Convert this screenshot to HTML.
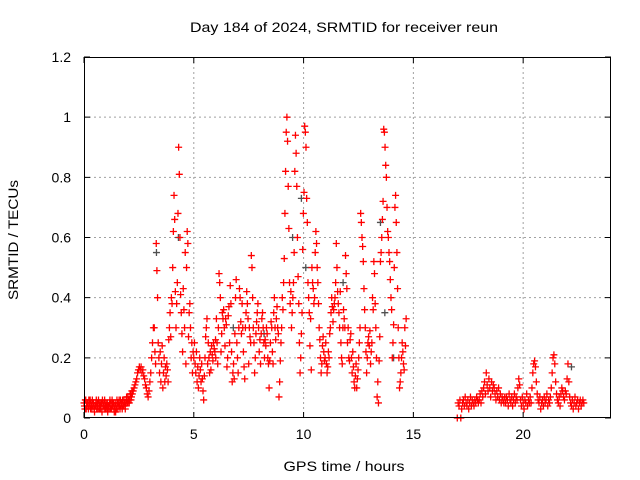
<!DOCTYPE html>
<html><head><meta charset="utf-8"><style>
html,body{margin:0;padding:0;background:#fff;}
svg{display:block;font-family:"Liberation Sans",sans-serif;}
</style></head><body>
<svg id="chart" width="640" height="480" viewBox="0 0 640 480">
<rect x="0" y="0" width="640" height="480" fill="#fff"/>
<text x="344" y="32" font-size="14" text-anchor="middle" textLength="308" lengthAdjust="spacingAndGlyphs" fill="#000">Day 184 of 2024, SRMTID for receiver reun</text>
<text x="344" y="471" font-size="14" text-anchor="middle" textLength="121" lengthAdjust="spacingAndGlyphs" fill="#000">GPS time / hours</text>
<text x="18" y="240" font-size="14" text-anchor="middle" textLength="120" lengthAdjust="spacingAndGlyphs" fill="#000" transform="rotate(-90 18 240)">SRMTID / TECUs</text>
<g id="grid"></g><g id="marks"></g><g id="axes"></g>
</svg>
<script>
const xTicks=[0,5,10,15,20];
const yTicks=[0,0.2,0.4,0.6,0.8,1,1.2];
const yTickLabels=["0","0.2","0.4","0.6","0.8","1","1.2"];
const segStarts=[0,0.02,2.2,3.2,5.0,6.0,9.0,10.5,12.0,17.0,18.0,19.2,20.4,21.6];
const segSteps=[0.04,0.04,0.04,0.03,0.03,0.03,0.03,0.03,0.03,0.04,0.04,0.04,0.04,0.04];
const segValues=[
[0.05,0.03,0.06,0.04,0.05,0.03,0.04,0.06,0.05,0.03,0.04,0.05,0.02,0.04,0.06,0.04,0.03,0.05,0.04,0.03,0.05,0.06,0.04,0.03,0.04,0.05,0.03,0.02,0.04,0.05,0.03,0.04,0.06,0.05,0.03,0.04,0.02,0.03,0.05,0.04,0.06,0.03,0.04,0.05,0.06,0.04,0.05,0.03,0.06,0.05,0.07,0.05,0.06,0.08,0.07],
[0.04,0.06,0.03,0.05,0.04,0.06,0.05,0.03,0.04,0.06,0.05,0.03,0.04,0.05,0.03,0.05,0.06,0.03,0.05,0.04,0.02,0.04,0.05,0.06,0.03,0.04,0.05,0.04,0.03,0.06,0.05,0.03,0.04,0.05,0.02,0.05,0.04,0.06,0.03,0.05,0.04,0.06,0.05,0.03,0.04,0.06,0.04,0.05,0.07,0.05,0.06,0.05,0.08,0.06,0.09],
[0.08,0.09,0.1,0.11,0.12,0.13,0.15,0.16,0.17,0.16,0.17,0.15,0.16,0.14,0.13,0.11,0.1,0.08,0.07,0.09,0.12,0.15,0.2,0.25,0.3],
[0.3,0.22,0.18,0.58,0.49,0.4,0.25,0.2,0.15,0.22,0.12,0.18,0.24,0.1,0.15,0.2,0.12,0.17,0.14,0.18,0.16,0.12,0.26,0.3,0.35,0.27,0.4,0.38,0.5,0.62,0.74,0.66,0.42,0.3,0.38,0.45,0.68,0.9,0.81,0.6,0.41,0.35,0.28,0.22,0.43,0.36,0.3,0.55,0.18,0.5,0.62,0.58,0.27,0.35,0.38,0.3,0.2,0.25,0.15,0.22],
[0.2,0.25,0.18,0.15,0.22,0.12,0.17,0.1,0.14,0.2,0.16,0.12,0.18,0.13,0.09,0.06,0.14,0.2,0.27,0.3,0.33,0.18,0.25,0.2,0.15,0.22,0.16,0.24,0.21,0.19,0.25,0.23,0.22,0.26],
[0.2,0.33,0.25,0.18,0.3,0.48,0.45,0.4,0.22,0.28,0.35,0.33,0.36,0.3,0.24,0.33,0.31,0.17,0.2,0.34,0.37,0.25,0.44,0.38,0.22,0.12,0.15,0.18,0.13,0.28,0.4,0.46,0.25,0.2,0.15,0.3,0.43,0.4,0.32,0.28,0.38,0.3,0.22,0.17,0.13,0.3,0.35,0.42,0.38,0.33,0.18,0.3,0.27,0.25,0.54,0.5,0.4,0.3,0.25,0.15,0.2,0.28,0.32,0.35,0.38,0.3,0.22,0.26,0.18,0.28,0.33,0.35,0.3,0.25,0.2,0.26,0.24,0.3,0.28,0.2,0.18,0.1,0.19,0.25,0.32,0.3,0.22,0.18,0.35,0.4,0.3,0.26,0.33,0.37,0.3,0.28,0.07,0.12,0.19,0.25],
[0.3,0.4,0.36,0.45,0.53,0.68,0.82,0.95,1.0,0.92,0.77,0.63,0.45,0.38,0.42,0.3,0.35,0.4,0.45,0.55,0.82,0.94,0.88,0.77,0.6,0.47,0.38,0.25,0.15,0.2,0.28,0.35,0.56,0.68,0.75,0.97,0.95,0.9,0.73,0.65,0.45,0.4,0.35,0.24,0.33,0.16,0.5,0.45,0.43,0.38],
[0.4,0.55,0.62,0.58,0.5,0.45,0.38,0.3,0.26,0.2,0.15,0.18,0.24,0.27,0.22,0.19,0.2,0.25,0.18,0.15,0.17,0.22,0.2,0.28,0.3,0.35,0.4,0.37,0.32,0.36,0.38,0.4,0.45,0.58,0.5,0.42,0.38,0.35,0.3,0.42,0.25,0.2,0.18,0.3,0.36,0.33,0.3,0.54,0.48,0.43],
[0.25,0.3,0.2,0.19,0.26,0.28,0.2,0.15,0.22,0.17,0.12,0.1,0.14,0.18,0.1,0.13,0.16,0.2,0.25,0.3,0.68,0.65,0.6,0.57,0.52,0.43,0.36,0.3,0.22,0.15,0.2,0.25,0.27,0.24,0.29,0.18,0.22,0.25,0.4,0.36,0.52,0.48,0.38,0.3,0.2,0.07,0.12,0.05,0.19,0.27,0.52,0.55,0.6,0.66,0.72,0.96,0.95,0.9,0.84,0.8,0.7,0.62,0.6,0.55,0.52,0.46,0.4,0.36,0.2,0.25,0.31,0.5,0.7,0.74,0.65,0.55,0.43,0.3,0.2,0.1,0.12,0.15,0.2,0.25,0.22,0.18,0.16,0.3,0.24,0.33],
[0,0.05,0.04,0.06,0,0.03,0.05,0.06,0.04,0.07,0.05,0.04,0.06,0.03,0.05,0.07,0.04,0.06,0.05,0.04,0.06,0.05,0.07,0.06,0.05],
[0.06,0.08,0.05,0.09,0.07,0.1,0.12,0.08,0.15,0.11,0.09,0.13,0.1,0.07,0.12,0.09,0.11,0.1,0.08,0.06,0.09,0.07,0.1,0.06,0.08,0.05,0.07,0.06,0.05,0.07],
[0.05,0.07,0.06,0.04,0.08,0.06,0.05,0.07,0.04,0.06,0.08,0.05,0.07,0.06,0.1,0.13,0.11,0.06,0.04,0.07,0.05,0.03,0.06,0.05,0.08,0.04,0.06,0.05,0.07,0.05],
[0.1,0.15,0.18,0.19,0.17,0.12,0.08,0.06,0.05,0.07,0.03,0.05,0.06,0.04,0.07,0.05,0.06,0.08,0.04,0.06,0.05,0.07,0.1,0.15,0.2,0.21,0.18,0.12,0.08,0.06],
[0.05,0.07,0.04,0.08,0.1,0.09,0.07,0.06,0.09,0.08,0.13,0.18,0.12,0.07,0.05,0.04,0.06,0.03,0.05,0.07,0.04,0.05,0.06,0.03,0.05,0.06,0.04,0.05,0.06,0.05]
];
const grayHours=[3.3,4.3,6.8,8.2,9.5,9.9,10.1,11.8,13.5,13.7,14.1,22.2];
const grayValues=[0.55,0.6,0.3,0.28,0.6,0.73,0.5,0.45,0.65,0.35,0.2,0.17];

const L=84,R=611,T=57,B=418,XMAX=24,YMAX=1.2;
const xs=h=>L+(h/XMAX)*(R-L);
const ys=v=>B-(v/YMAX)*(B-T);
const NS="http://www.w3.org/2000/svg";
function mk(tag,attrs,parent){const e=document.createElementNS(NS,tag);for(const k in attrs)e.setAttribute(k,attrs[k]);parent.appendChild(e);return e;}
const grid=document.getElementById('grid'),marks=document.getElementById('marks'),axes=document.getElementById('axes');
xTicks.forEach(t=>{
  if(t>0){const g=mk('line',{x1:xs(t),x2:xs(t),y1:T,y2:B,stroke:'#a0a0a0','stroke-dasharray':'2,3','stroke-width':1},grid);
  
  }
  const tk=mk('path',{d:`M${xs(t)},${B}v-6M${xs(t)},${T}v6`,stroke:'#000','stroke-width':1},axes);
  
  
  const lb=mk('text',{x:xs(t),y:B+21,'font-size':14,'text-anchor':'middle',fill:'#000'},axes);lb.textContent=String(t);
  
  
});
yTicks.forEach((t,i)=>{
  if(t>0&&t<YMAX){const g=mk('line',{x1:L,x2:R,y1:ys(t),y2:ys(t),stroke:'#a0a0a0','stroke-dasharray':'2,3','stroke-width':1},grid);
  
  }
  const tk=mk('path',{d:`M${L},${ys(t)}h6M${R},${ys(t)}h-6`,stroke:'#000','stroke-width':1},axes);
  
  
  const lb=mk('text',{x:L-13,y:ys(t)+5,'font-size':14,'text-anchor':'end',fill:'#000'},axes);lb.textContent=yTickLabels[i];
  
  
});
const frame=mk('rect',{x:L+0.5,y:T+0.5,width:R-L-1,height:B-T-1,fill:'none',stroke:'#000','stroke-width':1},axes);


function plus(h,v,color,name){
  const x=xs(h),y=ys(v);
  const p=mk('path',{d:`M${x-3.5},${y}h7M${x},${y-3.5}v7`,stroke:color,'stroke-width':1.3},marks);
  
  
}
grayHours.forEach((h,i)=>plus(h,grayValues[i],'#505050','gray-point'));
segValues.forEach((vals,s)=>vals.forEach((v,i)=>plus(segStarts[s]+i*segSteps[s],v,'#ff0000','srmtid-point')));
</script>
</body></html>
